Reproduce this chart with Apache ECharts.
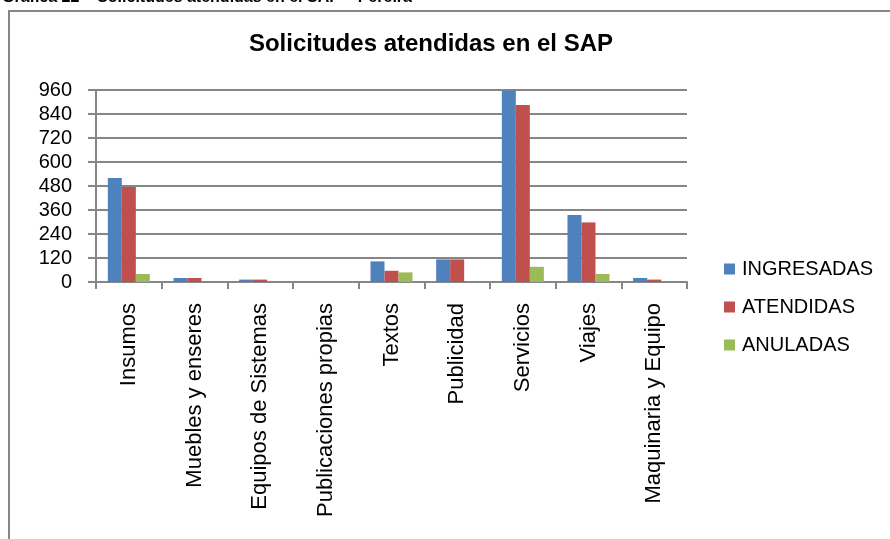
<!DOCTYPE html>
<html>
<head>
<meta charset="utf-8">
<script src="https://cdn.jsdelivr.net/npm/echarts@6/dist/echarts.min.js"></script>
<style>
html,body{margin:0;padding:0;background:#fff;}
#chart{width:890px;height:539px;}
</style>
</head>
<body>
<div id="chart"></div>
<script>
const categories = ['Insumos','Muebles y enseres','Equipos de Sistemas','Publicaciones propias','Textos','Publicidad','Servicios','Viajes','Maquinaria y Equipo'];
const ingresadas = [520, 20, 12, 0, 103, 113, 958, 335, 20];
const atendidas  = [475, 20, 12, 0, 56, 113, 885, 298, 12];
const anuladas   = [40, 0, 0, 0, 48, 0, 76, 40, 0];
const seriesNames = ['INGRESADAS','ATENDIDAS','ANULADAS'];
const colors = ['#4F81BD','#C0504D','#9BBB59'];
const yTicks = [0,120,240,360,480,600,720,840,960];

const font = '"Liberation Sans", Arial, sans-serif';
const chart = echarts.init(document.getElementById('chart'));
const dataSets = [ingresadas, atendidas, anuladas];
chart.setOption({
  animation: false,
  backgroundColor: '#fff',
  title: {
    text: 'Solicitudes atendidas en el SAP',
    left: 426, textAlign: 'center', top: 27,
    textStyle: {fontFamily: font, fontWeight: 'bold', fontSize: 24, color: '#000'}
  },
  graphic: [
    {type: 'rect', shape: {x: 9, y: 11, width: 900, height: 600}, style: {fill: 'none', stroke: '#868686', lineWidth: 2}},
    {type: 'text', left: 2, top: -10, style: {text: 'Gráfica 22 – Solicitudes atendidas en el SAP – Pereira', font: 'bold 16px "Liberation Sans", Arial, sans-serif', fill: '#000'}}
  ],
  legend: {
    orient: 'vertical', left: 719, top: 254,
    itemWidth: 11, itemHeight: 11, itemGap: 18,
    icon: 'rect',
    data: seriesNames,
    textStyle: {fontFamily: font, fontSize: 20, color: '#000', padding: [0,0,0,2]}
  },
  grid: {left: 96, right: 203, top: 90, bottom: 257},
  xAxis: {
    type: 'category', data: categories,
    axisLine: {lineStyle: {color: '#868686', width: 2}},
    axisTick: {show: true, length: 7, lineStyle: {color: '#868686', width: 2}},
    axisLabel: {rotate: 90, interval: 0, margin: 21, fontFamily: font, fontSize: 22, color: '#000'}
  },
  yAxis: {
    type: 'value', min: 0, max: 960, interval: 120,
    axisLine: {show: true, lineStyle: {color: '#868686', width: 2}},
    axisTick: {show: true, length: 8, lineStyle: {color: '#868686', width: 2}},
    splitLine: {lineStyle: {color: '#868686', width: 2}},
    axisLabel: {margin: 24, fontFamily: font, fontSize: 20, color: '#000',
      formatter: v => yTicks.includes(v) ? String(v) : ''}
  },
  series: seriesNames.map((n, i) => ({
    name: n, type: 'bar', data: dataSets[i],
    barGap: '0%', barCategoryGap: '36%',
    itemStyle: {color: colors[i]}
  }))
});
</script>
</body>
</html>
